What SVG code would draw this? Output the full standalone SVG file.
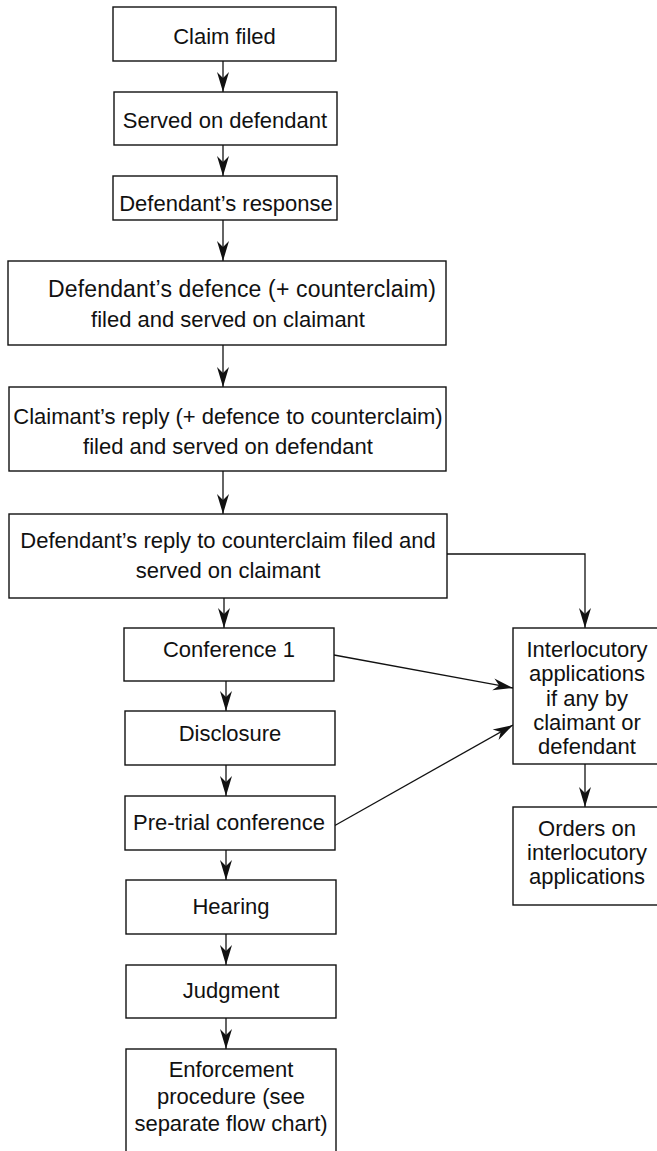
<svg xmlns="http://www.w3.org/2000/svg" width="657" height="1151" viewBox="0 0 657 1151">
<style>
.box{fill:#fff;stroke:#111;stroke-width:1.4}
.t{font-family:"Liberation Sans",Arial,sans-serif;font-size:22px;fill:#111;text-anchor:middle}
.c{fill:none;stroke:#111;stroke-width:1.3}
</style>
<defs>
<marker id="ah" markerUnits="userSpaceOnUse" markerWidth="22" markerHeight="14" viewBox="-21 -7 22 14" refX="0" refY="0" orient="auto">
<path d="M0,0 L-20,-6 L-14,0 L-20,6 Z" fill="#111"/>
</marker>
</defs>
<rect width="657" height="1151" fill="#fff"/>
<g id="connectors">
<line class="c" x1="223" y1="61" x2="223" y2="92" marker-end="url(#ah)"/>
<line class="c" x1="223" y1="145" x2="223" y2="176" marker-end="url(#ah)"/>
<line class="c" x1="223" y1="220" x2="223" y2="261" marker-end="url(#ah)"/>
<line class="c" x1="223" y1="345" x2="223" y2="387" marker-end="url(#ah)"/>
<line class="c" x1="223" y1="471" x2="223" y2="514" marker-end="url(#ah)"/>
<line class="c" x1="224" y1="598" x2="224" y2="628" marker-end="url(#ah)"/>
<line class="c" x1="226" y1="681" x2="226" y2="711" marker-end="url(#ah)"/>
<line class="c" x1="226" y1="765" x2="226" y2="796" marker-end="url(#ah)"/>
<line class="c" x1="226" y1="850" x2="226" y2="880" marker-end="url(#ah)"/>
<line class="c" x1="226" y1="934" x2="226" y2="965" marker-end="url(#ah)"/>
<line class="c" x1="226" y1="1018" x2="226" y2="1049" marker-end="url(#ah)"/>
<polyline class="c" points="447,554 585,554 585,628" marker-end="url(#ah)"/>
<line class="c" x1="334" y1="655" x2="513" y2="688" marker-end="url(#ah)"/>
<line class="c" x1="334" y1="826" x2="513" y2="725" marker-end="url(#ah)"/>
<line class="c" x1="585" y1="764" x2="585" y2="807" marker-end="url(#ah)"/>
</g>
<g id="claim-filed"><rect class="box" x="113" y="7" width="223" height="54"/><text class="t" x="224.5" y="44">Claim filed</text></g>
<g id="served"><rect class="box" x="114" y="92" width="223" height="53"/><text class="t" x="225" y="128">Served on defendant</text></g>
<g id="response"><rect class="box" x="113" y="176" width="224" height="44"/><text class="t" x="226" y="211">Defendant’s response</text></g>
<g id="defence"><rect class="box" x="8" y="261" width="438" height="84"/><text class="t" x="242" y="297" style="font-size:23px" textLength="388">Defendant’s defence (+ counterclaim)</text><text class="t" x="228" y="327">filed and served on claimant</text></g>
<g id="claimant-reply"><rect class="box" x="9" y="387" width="437" height="84"/><text class="t" x="228" y="424">Claimant’s reply (+ defence to counterclaim)</text><text class="t" x="228" y="454">filed and served on defendant</text></g>
<g id="defendant-reply"><rect class="box" x="9" y="514" width="438" height="84"/><text class="t" x="228" y="548">Defendant’s reply to counterclaim filed and</text><text class="t" x="228" y="578">served on claimant</text></g>
<g id="conference1"><rect class="box" x="124" y="628" width="210" height="53"/><text class="t" x="229" y="657">Conference 1</text></g>
<g id="disclosure"><rect class="box" x="125" y="711" width="210" height="54"/><text class="t" x="230" y="741">Disclosure</text></g>
<g id="pretrial"><rect class="box" x="125" y="796" width="210" height="54"/><text class="t" x="229" y="830">Pre-trial conference</text></g>
<g id="hearing"><rect class="box" x="126" y="880" width="210" height="54"/><text class="t" x="231" y="914">Hearing</text></g>
<g id="judgment"><rect class="box" x="126" y="965" width="210" height="53"/><text class="t" x="231" y="998">Judgment</text></g>
<g id="enforcement"><rect class="box" x="126" y="1049" width="210" height="120"/><text class="t" x="231" y="1077">Enforcement</text><text class="t" x="231" y="1104">procedure (see</text><text class="t" x="231" y="1131">separate flow chart)</text></g>
<g id="interlocutory"><rect class="box" x="513" y="628" width="148" height="136"/><text class="t" x="587" y="657">Interlocutory</text><text class="t" x="587" y="681">applications</text><text class="t" x="587" y="706">if any by</text><text class="t" x="587" y="730">claimant or</text><text class="t" x="587" y="754">defendant</text></g>
<g id="orders"><rect class="box" x="513" y="807" width="148" height="98"/><text class="t" x="587" y="836">Orders on</text><text class="t" x="587" y="860">interlocutory</text><text class="t" x="587" y="884">applications</text></g>
</svg>
